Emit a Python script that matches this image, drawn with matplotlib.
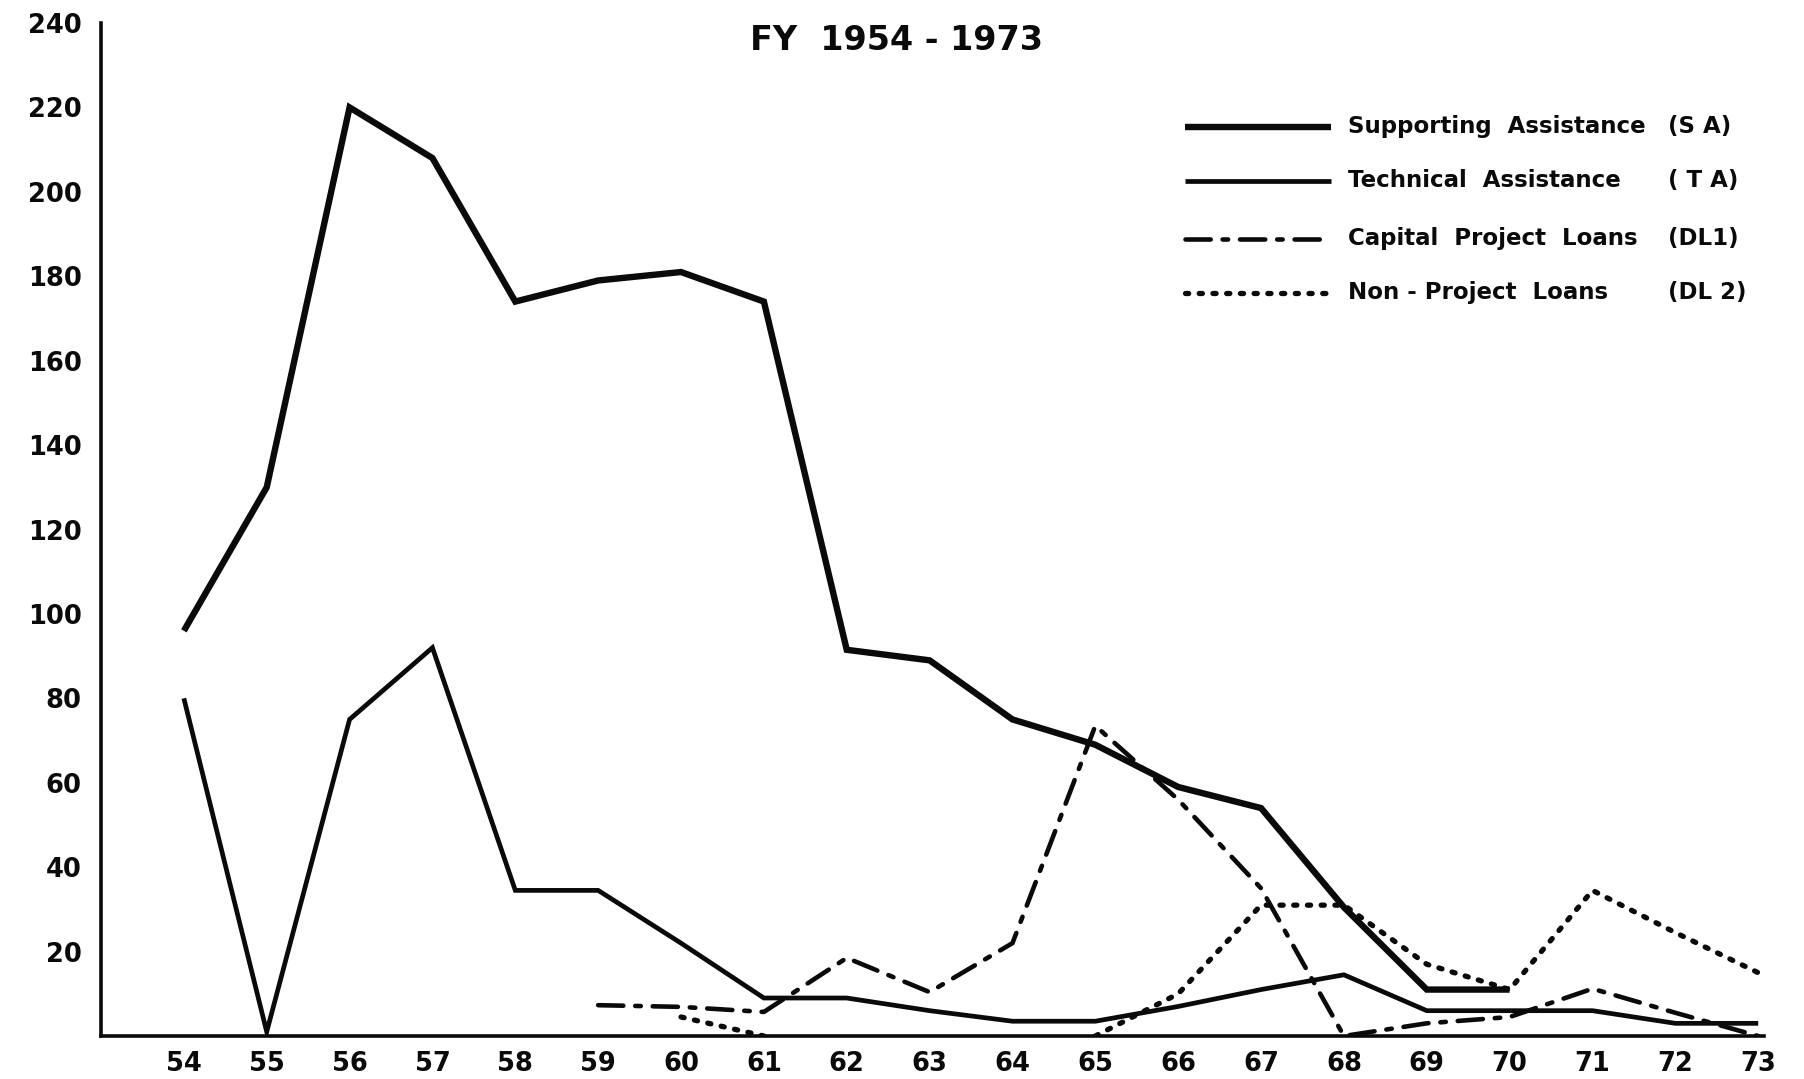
import numpy as np
import matplotlib
matplotlib.use("Agg")
import matplotlib.pyplot as plt

# ---- data ----
sa_years = [54, 55, 56, 57, 58, 59, 60, 61, 62, 63, 64, 65, 66, 67, 68, 69, 70]
sa_vals = [96, 130, 220, 208, 174, 179, 181, 174, 91.5, 89, 75, 69, 59, 54, 30.5, 11, 11]

ta_years = [54, 55, 56, 57, 58, 59, 60, 61, 62, 63, 64, 65, 66, 67, 68, 69, 70, 71, 72, 73]
ta_vals = [80, 1, 75, 92, 34.5, 34.5, 22, 9, 9, 6, 3.5, 3.5, 7, 11, 14.5, 6, 6, 6, 3, 3]

dl1_years = [59, 60, 61, 62, 63, 64, 65, 66, 67, 68, 69, 70, 71, 72, 73]
dl1_vals = [7.3, 6.9, 5.7, 18.5, 10.4, 22, 73.5, 56, 35, 0, 3, 4.5, 11.2, 5.5, 0]

dl2_years = [60, 61, 62, 63, 64, 65, 66, 67, 68, 69, 70, 71, 72, 73]
dl2_vals = [4.5, 0, np.nan, np.nan, np.nan, 0, 10, 31, 31, 17, 11, 34.5, 24.5, 15]

x_ticks = list(range(54, 74))
x_labels = [str(v) for v in x_ticks]
y_ticks = list(range(20, 241, 20))
y_labels = [str(v) for v in y_ticks]

legend_labels = ["Supporting  Assistance", "Technical  Assistance",
                 "Capital  Project  Loans", "Non - Project  Loans"]
legend_codes = ["(S A)", "( T A)", "(DL1)", "(DL 2)"]
title_text = "FY  1954 - 1973"

# ---- figure ----
W, H = 1804, 1079
fig = plt.figure(figsize=(W / 100, H / 100), dpi=100)
fig.patch.set_facecolor("white")
ax = fig.add_axes([101 / W, 1 - 1036 / H, (1764 - 101) / W, (1036 - 23) / H])

ink = "#0a0a0a"
styles = [
    dict(color=ink, lw=4.6, solid_joinstyle="miter", solid_capstyle="butt"),
    dict(color=ink, lw=3.4, solid_joinstyle="miter", solid_capstyle="butt"),
    dict(color=ink, lw=3.3, linestyle=(0, (5.5, 2.6, 1.2, 2.6)), dash_capstyle="round"),
    dict(color=ink, lw=3.8, linestyle=(0, (0.6, 2.0)), dash_capstyle="round"),
]

ax.plot(sa_years, sa_vals, **styles[0])
ax.plot(ta_years, ta_vals, **styles[1])
ax.plot(dl1_years, dl1_vals, **styles[2])
ax.plot(dl2_years, dl2_vals, **styles[3])

ax.set_xlim(53.0, 73.07)
ax.set_ylim(0, 240)

for s in ["top", "right"]:
    ax.spines[s].set_visible(False)
for s in ["left", "bottom"]:
    ax.spines[s].set_linewidth(2.6)
    ax.spines[s].set_color(ink)

tick_font = dict(fontsize=18.5, fontweight="heavy", color=ink)
ax.set_xticks(x_ticks)
ax.set_xticklabels(x_labels, **tick_font)
ax.set_yticks(y_ticks)
ax.set_yticklabels(y_labels, **tick_font)
ax.tick_params(axis="x", length=0, pad=11)
ax.tick_params(axis="y", length=0, pad=14)

fig.text(897 / W, 1 - 40 / H, title_text, ha="center", va="center",
         fontsize=24, fontweight="heavy", color=ink)

# ---- manual legend ----
rows_y = [127, 181, 239, 293]
for i, (lab, code) in enumerate(zip(legend_labels, legend_codes)):
    yy = 1 - rows_y[i] / H
    ax.plot([1185 / W, 1331 / W], [yy, yy], transform=fig.transFigure,
            clip_on=False, **styles[i])
    fig.text(1348 / W, yy, lab, ha="left", va="center", fontsize=16.5,
             fontweight="heavy", color=ink)
    fig.text(1668 / W, yy, code, ha="left", va="center", fontsize=16.5,
             fontweight="heavy", color=ink)

fig.savefig("out.png", dpi=100, facecolor="white")
